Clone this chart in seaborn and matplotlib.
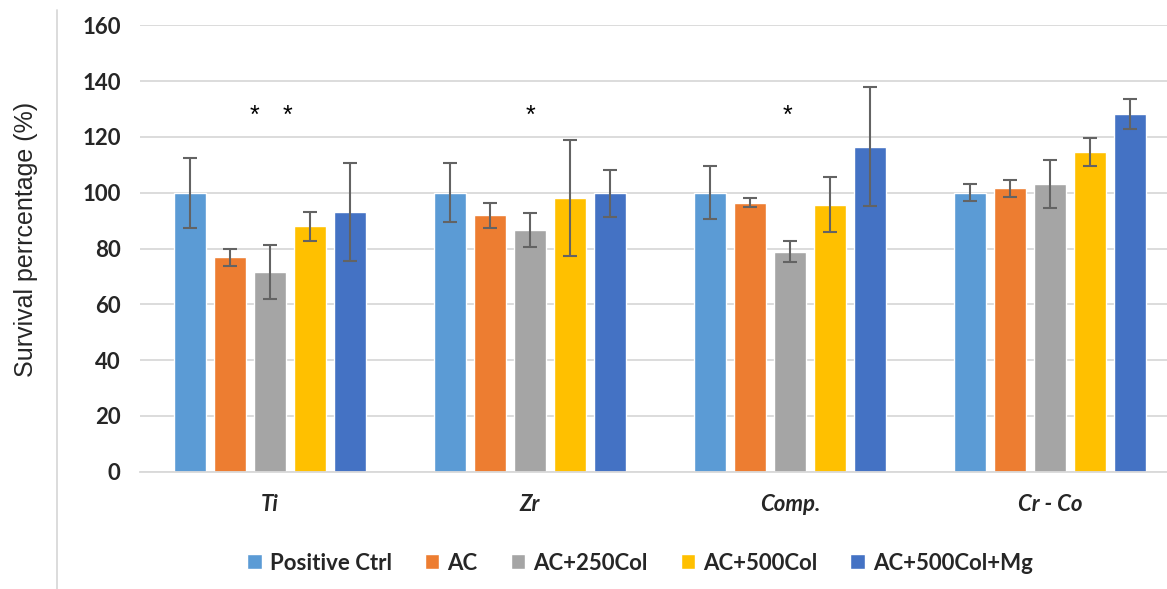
import numpy as np
import pandas as pd
import matplotlib
matplotlib.use("Agg")
import matplotlib.pyplot as plt
from matplotlib.lines import Line2D
import seaborn as sns

# ---- data ----
materials = ["Ti", "Zr", "Comp.", "Cr - Co"]
treatments = ["Positive Ctrl", "AC", "AC+250Col", "AC+500Col", "AC+500Col+Mg"]
colors = ["#5B9BD5", "#ED7D31", "#A5A5A5", "#FFC000", "#4472C4"]

# mean survival (%) per treatment, ordered by materials
positive_ctrl = [100.0, 100.0, 100.0, 100.0]
ac            = [76.8, 91.9, 96.4, 101.6]
ac_250col     = [71.7, 86.6, 78.9, 103.1]
ac_500col     = [88.0, 98.1, 95.7, 114.6]
ac_500col_mg  = [93.0, 99.8, 116.5, 128.3]

# error (+/-) per treatment, ordered by materials
err_positive_ctrl = [12.6, 10.5, 9.5, 3.0]
err_ac            = [3.0, 4.4, 1.7, 3.1]
err_ac_250col     = [9.7, 6.0, 3.8, 8.7]
err_ac_500col     = [5.2, 20.8, 9.8, 5.0]
err_ac_500col_mg  = [17.6, 8.4, 21.3, 5.4]

# significance asterisks: (x position in category units, y value)
star_x = [-0.058, 0.069, 1.0, 1.99]
star_y = [125.0, 125.0, 125.0, 125.0]

y_ticks = [0, 20, 40, 60, 80, 100, 120, 140, 160]

values = [positive_ctrl, ac, ac_250col, ac_500col, ac_500col_mg]
errors = [err_positive_ctrl, err_ac, err_ac_250col, err_ac_500col, err_ac_500col_mg]

rows = []
for t, vals in zip(treatments, values):
    for m, v in zip(materials, vals):
        rows.append({"Material": m, "Treatment": t, "Survival": v})
df = pd.DataFrame(rows)

# ---- style ----
sns.set_style("white")
plt.rcParams["font.family"] = ["Lato", "DejaVu Sans"]

fig = plt.figure(figsize=(11.67, 5.89), dpi=100)
ax = fig.add_axes([140 / 1167, 1 - 471.7 / 589, 1040 / 1167, (471.7 - 25.3) / 589])

sns.barplot(data=df, x="Material", y="Survival", hue="Treatment",
            order=materials, hue_order=treatments, palette=colors,
            width=0.769, gap=0.2, errorbar=None, saturation=1,
            ax=ax, zorder=2)

# error bars from bar geometry
for cont, errs in zip(ax.containers, errors):
    bars = sorted(cont.patches, key=lambda p: p.get_x())
    xs = [p.get_x() + p.get_width() / 2 for p in bars]
    hs = [p.get_height() for p in bars]
    ax.errorbar(xs, hs, yerr=errs, fmt="none", ecolor="#636363",
                elinewidth=1.5, capsize=5, capthick=1.5, zorder=3)

for sx, sy in zip(star_x, star_y):
    ax.text(sx, sy, "*", ha="center", va="baseline", fontsize=18,
            family=["Liberation Sans", "DejaVu Sans"], color="black")

ax.set_ylim(0, 160)
ax.set_yticks(y_ticks)
ax.set_xlim(-0.5, 3.5)
ax.yaxis.grid(True, color="#D9D9D9", linewidth=1.3, zorder=0)
ax.set_axisbelow(True)
for s in ["top", "right", "left"]:
    ax.spines[s].set_visible(False)
ax.spines["bottom"].set_color("#D9D9D9")
ax.spines["bottom"].set_linewidth(1.3)
ax.tick_params(axis="both", length=0)
ax.tick_params(axis="y", pad=14)
ax.tick_params(axis="x", pad=16)
for lab in ax.get_yticklabels():
    lab.set_fontweight("bold")
    lab.set_fontsize(16)
for lab in ax.get_xticklabels():
    lab.set_fontweight("bold")
    lab.set_fontstyle("italic")
    lab.set_fontsize(16)

ax.set_xlabel("")
ax.set_ylabel("Survival perrcentage (%)", fontsize=18,
              family=["Liberation Sans", "DejaVu Sans"])
ax.yaxis.set_label_coords((38 - 140) / 1040, 0.52)

handles, labels = ax.get_legend_handles_labels()
if ax.get_legend() is not None:
    ax.get_legend().remove()
fig.legend(handles, labels, loc="center", bbox_to_anchor=(640 / 1167, 1 - 563 / 589),
           ncol=5, frameon=False, handlelength=0.65, handleheight=0.65,
           handletextpad=0.35, columnspacing=1.5,
           prop={"weight": "bold", "size": 16})

fig.add_artist(Line2D([57 / 1167, 57 / 1167], [0, 1 - 10 / 589],
                      transform=fig.transFigure, color="#D9D9D9", linewidth=1.3))

fig.savefig("out.png", dpi=100)
